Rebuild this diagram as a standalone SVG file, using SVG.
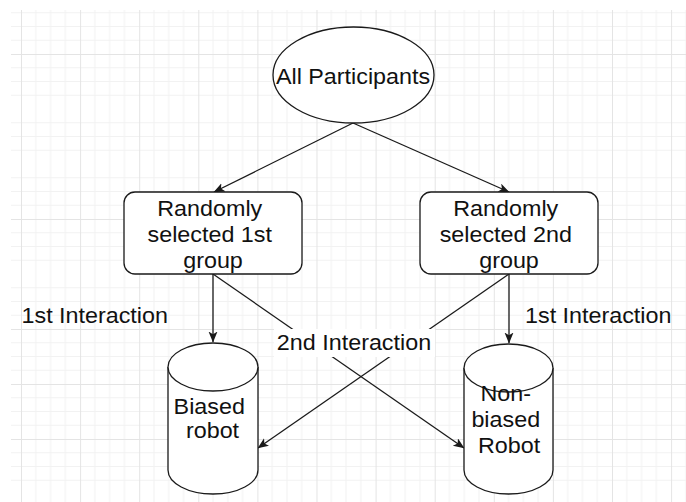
<svg xmlns="http://www.w3.org/2000/svg" width="686" height="502" viewBox="0 0 686 502">
  <style>
    .shape { fill: #ffffff; stroke: #1a1a1a; stroke-width: 1.3; }
    .edge { fill: none; stroke: #1a1a1a; stroke-width: 1.3; marker-end: url(#arrow); }
    .txt { font-family: "Liberation Sans", Arial, sans-serif; font-size: 21.5px; fill: #111111; text-anchor: middle; }
    .lbl { font-family: "Liberation Sans", Arial, sans-serif; font-size: 21.5px; fill: #111111; text-anchor: start; }
  </style>
  <defs>
    <pattern id="grid" patternUnits="userSpaceOnUse" x="21" y="54" width="59.1" height="55">
      <path d="M14.775,0 V55 M29.55,0 V55 M44.325,0 V55 M0,13.75 H59.1 M0,27.5 H59.1 M0,41.25 H59.1" stroke="#f2f2f2" stroke-width="1" fill="none"/>
      <path d="M0.5,0 V55 M0,0.5 H59.1" stroke="#e4e4e4" stroke-width="1" fill="none"/>
    </pattern>
    <marker id="arrow" markerUnits="userSpaceOnUse" markerWidth="12" markerHeight="10" refX="10.5" refY="4.5" orient="auto">
      <path d="M0,0 L11,4.5 L0,9 L2.8,4.5 Z" fill="#1a1a1a"/>
    </marker>
  </defs>

  <!-- page background and drawing grid -->
  <rect x="0" y="0" width="686" height="502" fill="#ffffff"/>
  <rect x="11" y="10" width="675" height="492" fill="url(#grid)"/>

  <!-- connectors -->
  <g id="edges">
    <line class="edge" x1="353" y1="123" x2="214" y2="192"/>
    <line class="edge" x1="353" y1="123" x2="509" y2="192"/>
    <line class="edge" x1="213" y1="274" x2="213" y2="342"/>
    <line class="edge" x1="509" y1="274" x2="509" y2="343"/>
    <line class="edge" x1="213" y1="274" x2="464" y2="448"/>
    <line class="edge" x1="509" y1="274" x2="258" y2="448"/>
  </g>

  <!-- edge labels -->
  <g id="labels">
    <text class="lbl" transform="translate(21.5,323) scale(1.085,1)" x="0" y="0">1st Interaction</text>
    <text class="lbl" transform="translate(525,323) scale(1.085,1)" x="0" y="0">1st Interaction</text>
    <rect x="274" y="329" width="161" height="28" fill="#ffffff"/>
    <text class="txt" transform="translate(354,350) scale(1.085,1)" x="0" y="0">2nd Interaction</text>
  </g>

  <g id="all-participants">
    <ellipse class="shape" cx="353.5" cy="75" rx="80.5" ry="48"/>
    <text class="txt" transform="translate(353,84) scale(1.085,1)" x="0" y="0">All Participants</text>
  </g>

  <g id="group-1">
    <rect class="shape" x="124" y="192" width="178" height="82" rx="11" ry="11"/>
    <text class="txt" transform="translate(213,215.5) scale(1.085,1)">
      <tspan x="0" y="0">Randomly</tspan>
      <tspan x="0" y="26.5">selected 1st</tspan>
      <tspan x="0" y="52.8">group</tspan>
    </text>
  </g>

  <g id="group-2">
    <rect class="shape" x="420" y="192" width="178" height="82" rx="11" ry="11"/>
    <text class="txt" transform="translate(509,215.5) scale(1.085,1)">
      <tspan x="0" y="0">Randomly</tspan>
      <tspan x="0" y="26.5">selected 2nd</tspan>
      <tspan x="0" y="52.8">group</tspan>
    </text>
  </g>

  <g id="biased-robot">
    <path class="shape" d="M168,367 A45,24 0 0 1 258,367 L258,470 A45,24 0 0 1 168,470 Z"/>
    <path class="shape" d="M168,367 A45,24 0 0 0 258,367" fill="none"/>
    <text class="txt" transform="translate(212.5,413.5) scale(1.085,1)">
      <tspan x="0" y="0">Biased</tspan>
      <tspan x="0" y="25">robot</tspan>
    </text>
  </g>

  <g id="non-biased-robot">
    <path class="shape" d="M464,368 A44.5,24 0 0 1 553,368 L553,470 A44.5,24 0 0 1 464,470 Z"/>
    <path class="shape" d="M464,368 A44.5,24 0 0 0 553,368" fill="none"/>
    <text class="txt" transform="translate(509,400.5) scale(1.085,1)">
      <tspan x="0" y="0">Non-</tspan>
      <tspan x="0" y="26.3">biased</tspan>
      <tspan x="0" y="52.6">Robot</tspan>
    </text>
  </g>
</svg>
